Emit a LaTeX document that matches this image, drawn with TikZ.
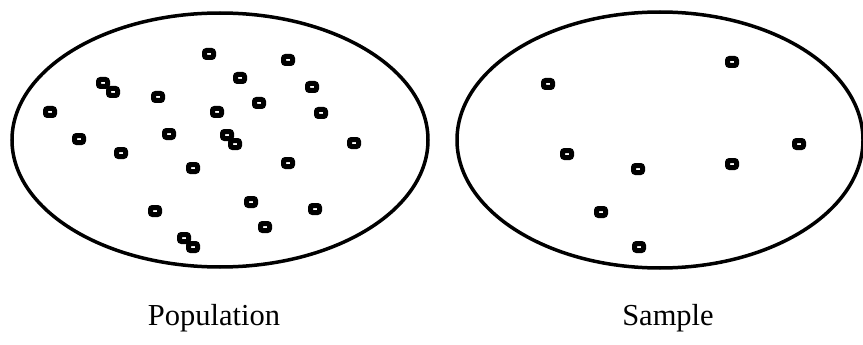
\documentclass[tikz,border=0pt]{standalone}
\usepackage{fontspec}
\setmainfont{Liberation Serif}
\usetikzlibrary{positioning}

\tikzset{
  unit/.style={draw, fill=white, line width=5pt, rounded corners=2pt,
    minimum width=9pt, minimum height=7pt, inner sep=0pt},
  group/.style={line width=3.5pt}
}

\begin{document}
\begin{tikzpicture}[x=1pt, y=-1pt]
    \useasboundingbox (0,0) rectangle (863,345);

    % Population
    \draw[group] (220,140) ellipse [x radius=208, y radius=127];
    \foreach \px/\py [count=\i] in {209/54, 288/60, 240/78, 312/87, 103/83, 113/92,
        158/97, 259/103, 217/112, 321/113, 50/112, 79/139, 169/134, 227/135,
        235/144, 354/143, 121/153, 193/168, 288/163, 155/211, 251/202,
        315/209, 265/227, 184/238, 193/247}
      \node[unit] (p\i) at (\px,\py) {};
    \node[font=\fontsize{30.5}{36}\selectfont] (poplabel) at (214,318) {Population};

    % Sample
    \draw[group] (660,140) ellipse [x radius=203, y radius=128];
    \foreach \sx/\sy [count=\i] in {548/84, 732/62, 567/154, 638/169, 732/164,
        799/144, 601/212, 639/247}
      \node[unit] (s\i) at (\sx,\sy) {};
    \node[font=\fontsize{30.5}{36}\selectfont] (samplabel) at (668,318) {Sample};
\end{tikzpicture}
\end{document}
